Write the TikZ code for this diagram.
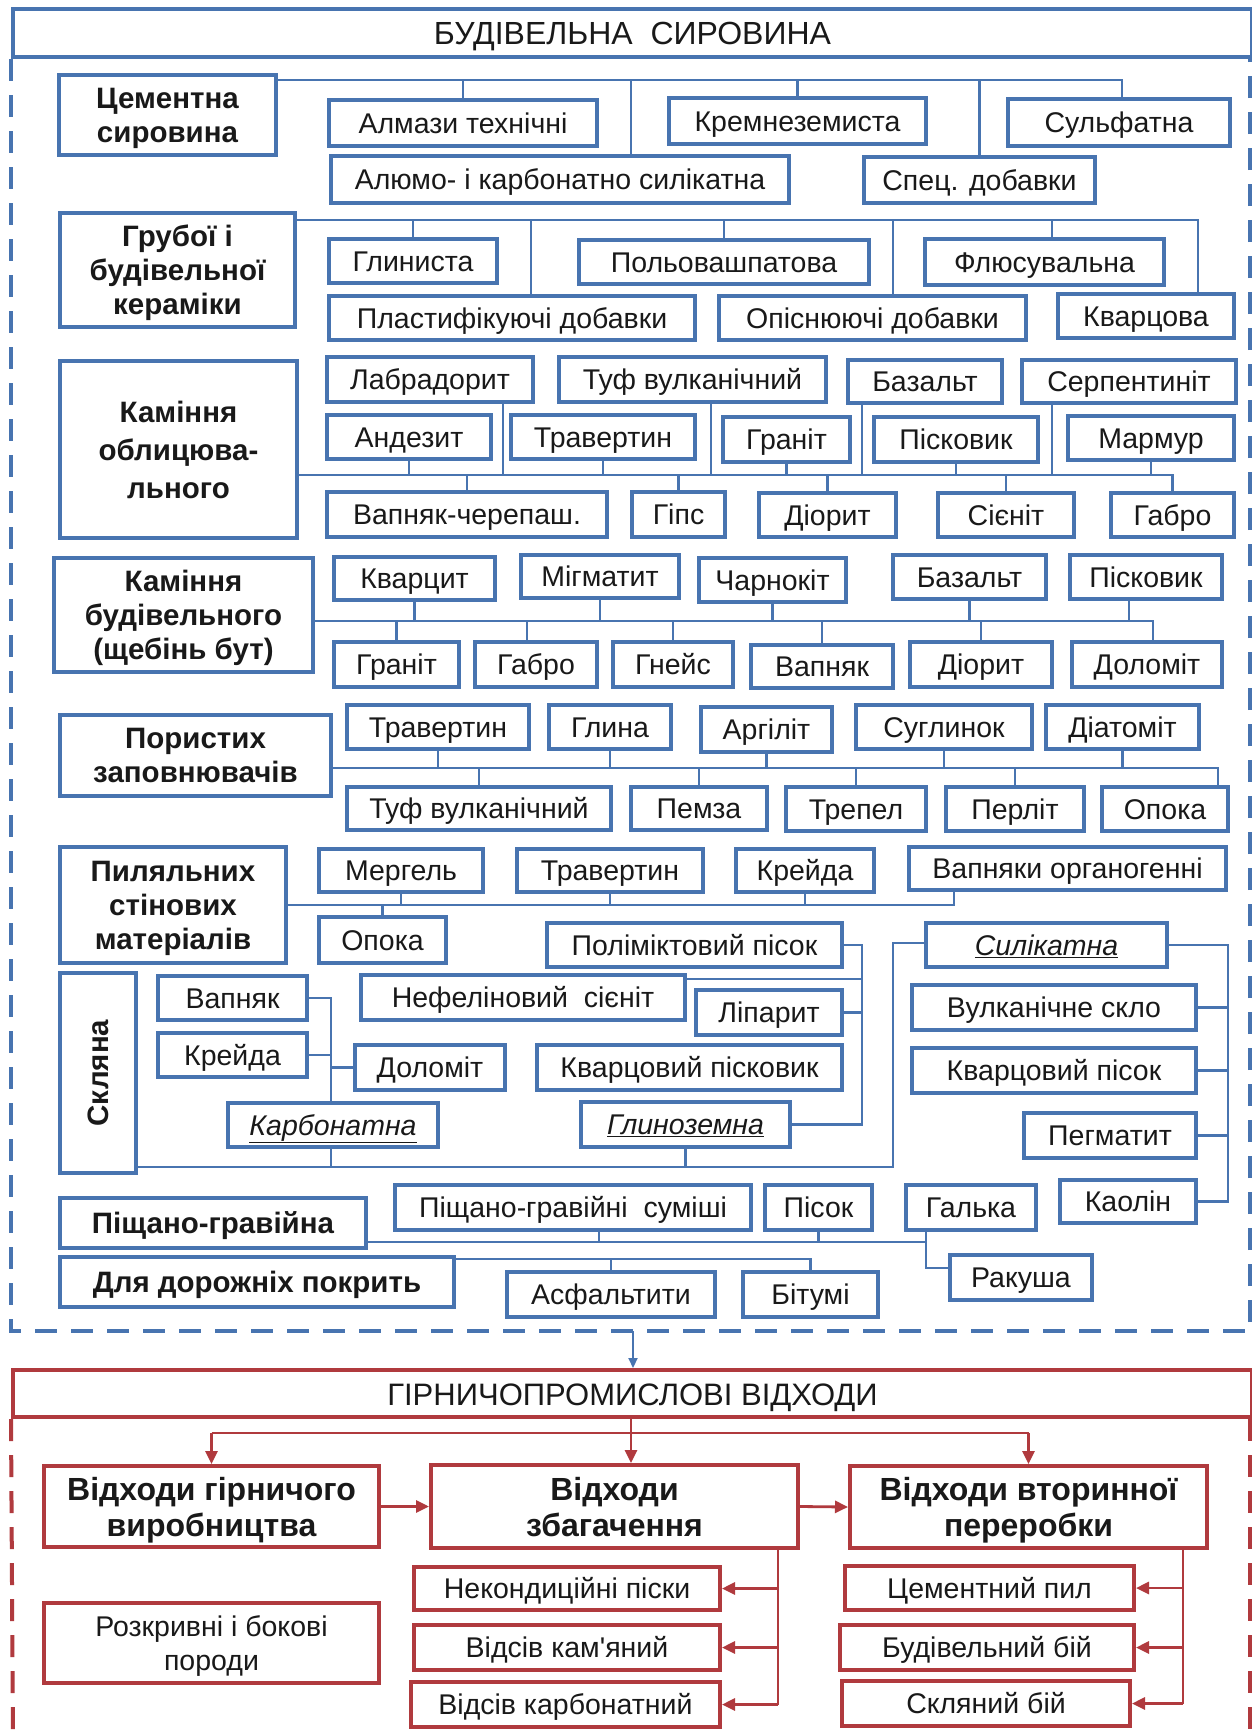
\documentclass[tikz,border=0pt]{standalone}
\usepackage{fontspec}
\usepackage{graphicx}
\setmainfont{Liberation Sans}
\newfontfamily\rawfont{Liberation Sans}
\usetikzlibrary{arrows.meta}
\definecolor{bl}{RGB}{72,116,176}
\definecolor{rd}{RGB}{176,58,62}
\definecolor{tx}{RGB}{25,25,25}
\newcommand\Bx[7][]{%
  \pgfmathsetmacro\bxw{#5-#3}\pgfmathsetmacro\bxh{#6-#4}%
  \pgfmathsetmacro\bxx{(#3+#5)/2}\pgfmathsetmacro\bxy{(#4+#6)/2}%
  \node[box,#1,minimum width=\bxw pt,minimum height=\bxh pt] (#2) at (\bxx,\bxy) {#7};}
\tikzset{
  box/.style={draw=bl, line width=4pt, fill=white, inner sep=0pt, align=center,
    font=\fontsize{28.5}{34}\selectfont, text=tx, text height=20.5pt, text depth=0pt},
  hd/.style={font=\fontsize{29.5}{34}\selectfont\bfseries, text height={}},
  rhd/.style={font=\fontsize{32}{36}\selectfont\bfseries, text height={}},
  ml/.style={text height={}},
  ttl/.style={font=\fontsize{32}{36}\selectfont, text height=23pt},
  rbox/.style={draw=rd},
  con/.style={draw=bl, line width=2.4pt},
  rcon/.style={draw=rd, line width=2.8pt},
  rarr/.style={draw=rd, line width=2.8pt, -{Triangle[length=13pt,width=12pt]}},
  frame/.style={line width=4pt, dash pattern=on 22pt off 14pt},
}
\begin{document}
\begin{tikzpicture}[x=1pt,y=-1pt]
\useasboundingbox (0,0) rectangle (1252,1730);
\fill[white] (0,0) rectangle (1252,1730);

% ---------------- blue part ----------------
\Bx[ttl]{t1}{13}{9}{1252}{57}{БУДІВЕЛЬНА~ СИРОВИНА}

% Cementna
\Bx[hd]{cem}{59}{75}{276}{155}{Цементна\\сировина}
\Bx{almaz}{329}{100}{597}{146}{Алмази технічні}
\Bx{krem}{669}{98}{926}{144}{Кремнеземиста}
\Bx{sulf}{1008}{99}{1230}{146}{Сульфатна}
\Bx{alum}{331}{156}{789}{203}{Алюмо- і карбонатно силікатна}
\Bx{spec}{864}{157}{1095}{203}{Спец. добавки}
\coordinate (b1) at (0,80);
\draw[con] (cem.east |- b1) -- (1122,0 |- b1) -- (1122,0 |- sulf.north);
\draw[con] (almaz.north) -- (almaz.north |- b1);
\draw[con] (krem.north) -- (krem.north |- b1);
\draw[con] (631,0 |- alum.north) -- (631,0 |- b1);
\draw[con] (spec.north) -- (spec.north |- b1);

% Ceramics
\Bx[hd]{grub}{60}{213}{295}{327}{Грубої і\\будівельної\\кераміки}
\Bx{glyn}{329}{239}{497}{283}{Глиниста}
\Bx{polov}{579}{240}{869}{284}{Польовашпатова}
\Bx{flus}{925}{239}{1164}{285}{Флюсувальна}
\Bx{plast}{329}{296}{695}{340}{Пластифікуючі добавки}
\Bx{opisn}{719}{296}{1026}{340}{Опіснюючі добавки}
\Bx{kvarc}{1058}{294}{1234}{338}{Кварцова}
\coordinate (b2) at (0,220);
\draw[con] (grub.east |- b2) -- (1198,0 |- b2) -- (1198,0 |- kvarc.north);
\draw[con] (glyn.north) -- (glyn.north |- b2);
\draw[con] (531,0 |- plast.north) -- (531,0 |- b2);
\draw[con] (polov.north) -- (polov.north |- b2);
\draw[con] (893,0 |- opisn.north) -- (893,0 |- b2);
\draw[con] (1052,0 |- flus.north) -- (1052,0 |- b2);

% Facing stone
\Bx[hd,font=\fontsize{29.5}{38}\selectfont\bfseries]{obl}{60}{361}{297}{538}{Каміння\\облицюва-\\льного}
\Bx{labr}{327}{357}{533}{402}{Лабрадорит}
\Bx{tuf1}{559}{357}{826}{402}{Туф вулканічний}
\Bx{baz1}{848}{360}{1002}{403}{Базальт}
\Bx{serp}{1022}{360}{1236}{403}{Серпентиніт}
\Bx{andez}{327}{415}{491}{459}{Андезит}
\Bx{trav1}{511}{415}{695}{459}{Травертин}
\Bx{gran1}{723}{417}{850}{462}{Граніт}
\Bx{pisk1}{874}{417}{1038}{462}{Пісковик}
\Bx{marm}{1068}{416}{1234}{460}{Мармур}
\Bx{vapch}{327}{492}{607}{537}{Вапняк-черепаш.}
\Bx{gips}{632}{492}{725}{537}{Гіпс}
\Bx{dior1}{759}{493}{896}{537}{Діорит}
\Bx{sien}{938}{493}{1074}{537}{Сієніт}
\Bx{gabro1}{1111}{493}{1234}{537}{Габро}
\coordinate (b3) at (0,475);
\draw[con] (obl.east |- b3) -- (gabro1.north |- b3) -- (gabro1.north);
\draw[con] (andez.south) -- (andez.south |- b3);
\draw[con] (503,0 |- labr.south) -- (503,0 |- b3);
\draw[con] (trav1.south) -- (trav1.south |- b3);
\draw[con] (711,0 |- tuf1.south) -- (711,0 |- b3);
\draw[con] (gran1.south) -- (gran1.south |- b3);
\draw[con] (862,0 |- baz1.south) -- (862,0 |- b3);
\draw[con] (pisk1.south) -- (pisk1.south |- b3);
\draw[con] (1052,0 |- serp.south) -- (1052,0 |- b3);
\draw[con] (marm.south) -- (marm.south |- b3);
\draw[con] (vapch.north) -- (vapch.north |- b3);
\draw[con] (gips.north) -- (gips.north |- b3);
\draw[con] (dior1.north) -- (dior1.north |- b3);
\draw[con] (sien.north) -- (sien.north |- b3);

% Building stone
\Bx[hd]{bud}{54}{558}{313}{672}{Каміння\\будівельного\\(щебінь бут)}
\Bx{kvarcyt}{334}{557}{495}{600}{Кварцит}
\Bx{migm}{521}{555}{679}{598}{Мігматит}
\Bx{charn}{699}{558}{846}{602}{Чарнокіт}
\Bx{baz2}{893}{555}{1046}{599}{Базальт}
\Bx{pisk2}{1070}{555}{1222}{599}{Пісковик}
\Bx{gran2}{334}{642}{459}{687}{Граніт}
\Bx{gabro2}{475}{642}{597}{687}{Габро}
\Bx{gneis}{613}{642}{733}{687}{Гнейс}
\Bx{vapn2}{751}{645}{893}{688}{Вапняк}
\Bx{dior2}{910}{642}{1052}{687}{Діорит}
\Bx{dolom2}{1072}{642}{1222}{687}{Доломіт}
\coordinate (b4) at (0,621);
\draw[con] (bud.east |- b4) -- (1153,0 |- b4) -- (1153,0 |- dolom2.north);
\draw[con] (kvarcyt.south) -- (kvarcyt.south |- b4);
\draw[con] (migm.south) -- (migm.south |- b4);
\draw[con] (charn.south) -- (charn.south |- b4);
\draw[con] (baz2.south) -- (baz2.south |- b4);
\draw[con] (1129,0 |- pisk2.south) -- (1129,0 |- b4);
\draw[con] (gran2.north) -- (gran2.north |- b4);
\draw[con] (527,0 |- gabro2.north) -- (527,0 |- b4);
\draw[con] (gneis.north) -- (gneis.north |- b4);
\draw[con] (vapn2.north) -- (vapn2.north |- b4);
\draw[con] (dior2.north) -- (dior2.north |- b4);

% Porous fillers
\Bx[hd]{por}{60}{715}{331}{796}{Пористих\\заповнювачів}
\Bx{trav2}{347}{705}{529}{749}{Травертин}
\Bx{glyna}{549}{705}{671}{749}{Глина}
\Bx{argil}{701}{707}{832}{752}{Аргіліт}
\Bx{sugl}{856}{705}{1032}{749}{Суглинок}
\Bx{diat}{1046}{705}{1199}{749}{Діатоміт}
\Bx{tuf2}{347}{787}{611}{830}{Туф вулканічний}
\Bx{pemza}{631}{787}{767}{830}{Пемза}
\Bx{trepel}{786}{787}{926}{831}{Трепел}
\Bx{perlit}{946}{787}{1084}{831}{Перліт}
\Bx{opoka1}{1102}{787}{1228}{831}{Опока}
\coordinate (b5) at (0,768);
\draw[con] (por.east |- b5) -- (1218,0 |- b5) -- (1218,0 |- opoka1.north);
\draw[con] (trav2.south) -- (trav2.south |- b5);
\draw[con] (glyna.south) -- (glyna.south |- b5);
\draw[con] (argil.south) -- (argil.south |- b5);
\draw[con] (sugl.south) -- (sugl.south |- b5);
\draw[con] (diat.south) -- (diat.south |- b5);
\draw[con] (tuf2.north) -- (tuf2.north |- b5);
\draw[con] (pemza.north) -- (pemza.north |- b5);
\draw[con] (trepel.north) -- (trepel.north |- b5);
\draw[con] (perlit.north) -- (perlit.north |- b5);

% Sawn wall materials
\Bx[hd]{pyl}{60}{847}{286}{963}{Пиляльних\\стінових\\матеріалів}
\Bx{merg}{319}{849}{483}{892}{Мергель}
\Bx{trav3}{517}{849}{703}{892}{Травертин}
\Bx{kreida1}{736}{849}{874}{892}{Крейда}
\Bx{vapnorg}{909}{847}{1226}{890}{Вапняки органогенні}
\Bx{opoka2}{319}{917}{446}{963}{Опока}
\coordinate (b6) at (0,905);
\draw[con] (pyl.east |- b6) -- (954,0 |- b6) -- (954,0 |- vapnorg.south);
\draw[con] (merg.south) -- (merg.south |- b6);
\draw[con] (trav3.south) -- (trav3.south |- b6);
\draw[con] (kreida1.south) -- (kreida1.south |- b6);
\draw[con] (opoka2.north) -- (opoka2.north |- b6);

% Glass
\Bx[hd]{skl}{60}{973}{136}{1173}{\rotatebox{90}{Скляна}}
\Bx{polim}{547}{923}{842}{967}{Поліміктовий пісок}
\Bx{silik}{926}{923}{1167}{967}{\underline{\textit{Силікатна}}}
\Bx{vapn3}{158}{976}{307}{1020}{Вапняк}
\Bx{nef}{361}{975}{685}{1020}{Нефеліновий~ сієніт}
\Bx{lipar}{696}{990}{842}{1035}{Ліпарит}
\Bx{vulk}{912}{985}{1196}{1030}{Вулканічне скло}
\Bx{kreida2}{158}{1033}{307}{1077}{Крейда}
\Bx{dolom3}{355}{1045}{505}{1090}{Доломіт}
\Bx{kvpiskov}{537}{1045}{842}{1090}{Кварцовий пісковик}
\Bx{kvpisok}{912}{1048}{1196}{1093}{Кварцовий пісок}
\Bx{karb}{228}{1103}{438}{1147}{\underline{\textit{Карбонатна}}}
\Bx{glyno}{581}{1102}{790}{1147}{\underline{\textit{Глиноземна}}}
\Bx{pegm}{1024}{1113}{1196}{1158}{Пегматит}
\Bx{kaol}{1060}{1180}{1196}{1223}{Каолін}
\coordinate (b7) at (0,1167);
\coordinate (s7) at (0,943);
\draw[con] (skl.east |- b7) -- (893,0 |- b7) -- (893,0 |- s7) -- (silik.west |- s7);
\draw[con] (331,0 |- karb.south) -- (331,0 |- b7);
\draw[con] (glyno.south) -- (glyno.south |- b7);
% carbonate group
\coordinate (c7) at (331,0);
\draw[con] (vapn3.east) -- (vapn3.east -| c7) -- (karb.north -| c7);
\draw[con] (kreida2.east) -- (kreida2.east -| c7);
\draw[con] (dolom3.west) -- (dolom3.west -| c7);
% alumina group
\coordinate (g7) at (862,0);
\draw[con] (polim.east) -- (polim.east -| g7) -- (glyno.east -| g7) -- (glyno.east);
\draw[con] (nef.east |- 0,979) -- (g7 |- 0,979);
\draw[con] (lipar.east) -- (lipar.east -| g7);
% silicate group
\coordinate (r7) at (1228,0);
\draw[con] (silik.east) -- (silik.east -| r7) -- (kaol.east -| r7) -- (kaol.east);
\draw[con] (vulk.east) -- (vulk.east -| r7);
\draw[con] (kvpisok.east) -- (kvpisok.east -| r7);
\draw[con] (pegm.east) -- (pegm.east -| r7);

% Sand-gravel and roads
\Bx[hd]{pgrav}{60}{1198}{366}{1248}{Піщано-гравійна}
\Bx{pgsum}{395}{1185}{751}{1230}{Піщано-гравійні~ суміші}
\Bx{pisok}{765}{1185}{872}{1230}{Пісок}
\Bx{galka}{906}{1185}{1036}{1230}{Галька}
\Bx{rakusha}{950}{1255}{1092}{1300}{Ракуша}
\Bx[hd]{dor}{60}{1257}{454}{1307}{Для дорожніх покрить}
\Bx{asf}{507}{1272}{715}{1317}{Асфальтити}
\Bx{bitum}{743}{1272}{878}{1317}{Бітумі}
\coordinate (b8) at (0,1242);
\coordinate (rk) at (0,1268);
\draw[con] (pgrav.east |- b8) -- (926,0 |- b8) -- (926,0 |- rk) -- (rakusha.west |- rk);
\draw[con] (926,0 |- galka.south) -- (926,0 |- b8);
\draw[con] (599,0 |- pgsum.south) -- (599,0 |- b8);
\draw[con] (pisok.south) -- (pisok.south |- b8);
\coordinate (b9) at (0,1259);
\draw[con] (dor.east |- b9) -- (bitum.north |- b9) -- (bitum.north);
\draw[con] (asf.north) -- (asf.north |- b9);

% blue dashed frame
\coordinate (fb) at (0,1331);
\draw[bl, frame] (t1.south west) -- (t1.south west |- fb) -- (1250,0 |- fb) -- (1250,0 |- t1.south);

% ---------------- red part ----------------
\Bx[rbox,ttl,font=\fontsize{31}{36}\selectfont]{t2}{13}{1370}{1252}{1417}{ГІРНИЧОПРОМИСЛОВІ ВІДХОДИ}
\draw[bl, line width=2pt, -{Triangle[length=10pt,width=9pt]}] (633,0 |- fb) -- (633,0 |- t2.north);

\Bx[rbox,rhd]{vgir}{44}{1466}{379}{1547}{Відходи гірничого\\виробництва}
\Bx[rbox,rhd]{vzb}{431}{1465}{798}{1548}{Відходи\\збагачення}
\Bx[rbox,rhd]{vvtor}{850}{1466}{1207}{1548}{Відходи вторинної\\переробки}
\Bx[rbox]{nekond}{414}{1567}{720}{1610}{Некондиційні піски}
\Bx[rbox]{vidkam}{414}{1625}{720}{1670}{Відсів кам{\rawfont'}яний}
\Bx[rbox]{vidkarb}{411}{1682}{720}{1727}{Відсів карбонатний}
\Bx[rbox,ml]{rozkr}{44}{1603}{379}{1683}{Розкривні і бокові\\породи}
\Bx[rbox]{cempyl}{845}{1566}{1134}{1610}{Цементний пил}
\Bx[rbox]{budbii}{840}{1625}{1134}{1670}{Будівельний бій}
\Bx[rbox]{sklbii}{842}{1681}{1130}{1726}{Скляний бій}

\coordinate (rb) at (0,1433);
\draw[rcon] (vgir.north |- rb) -- (vvtor.north |- rb);
\draw[rarr] (631,0 |- t2.south) -- (631,0 |- vzb.north);
\draw[rarr] (vgir.north |- rb) -- (vgir.north);
\draw[rarr] (vvtor.north |- rb) -- (vvtor.north);
\draw[rarr] (vgir.east) -- (vzb.west);
\draw[rarr] (vzb.east) -- (vvtor.west);
\coordinate (zx) at (778,0);
\draw[rcon] (zx |- vzb.south) -- (zx |- vidkarb.east);
\draw[rarr] (zx |- nekond.east) -- (nekond.east);
\draw[rarr] (zx |- vidkam.east) -- (vidkam.east);
\draw[rarr] (zx |- vidkarb.east) -- (vidkarb.east);
\coordinate (vx) at (1183,0);
\draw[rcon] (vx |- vvtor.south) -- (vx |- sklbii.east);
\draw[rarr] (vx |- cempyl.east) -- (cempyl.east);
\draw[rarr] (vx |- budbii.east) -- (budbii.east);
\draw[rarr] (vx |- sklbii.east) -- (sklbii.east);

% red dashed frame
\draw[rd, frame] (t2.south west) -- (13,1745);
\draw[rd, frame] (1250,0 |- t2.south) -- (1250,1745);
\end{tikzpicture}
\end{document}
